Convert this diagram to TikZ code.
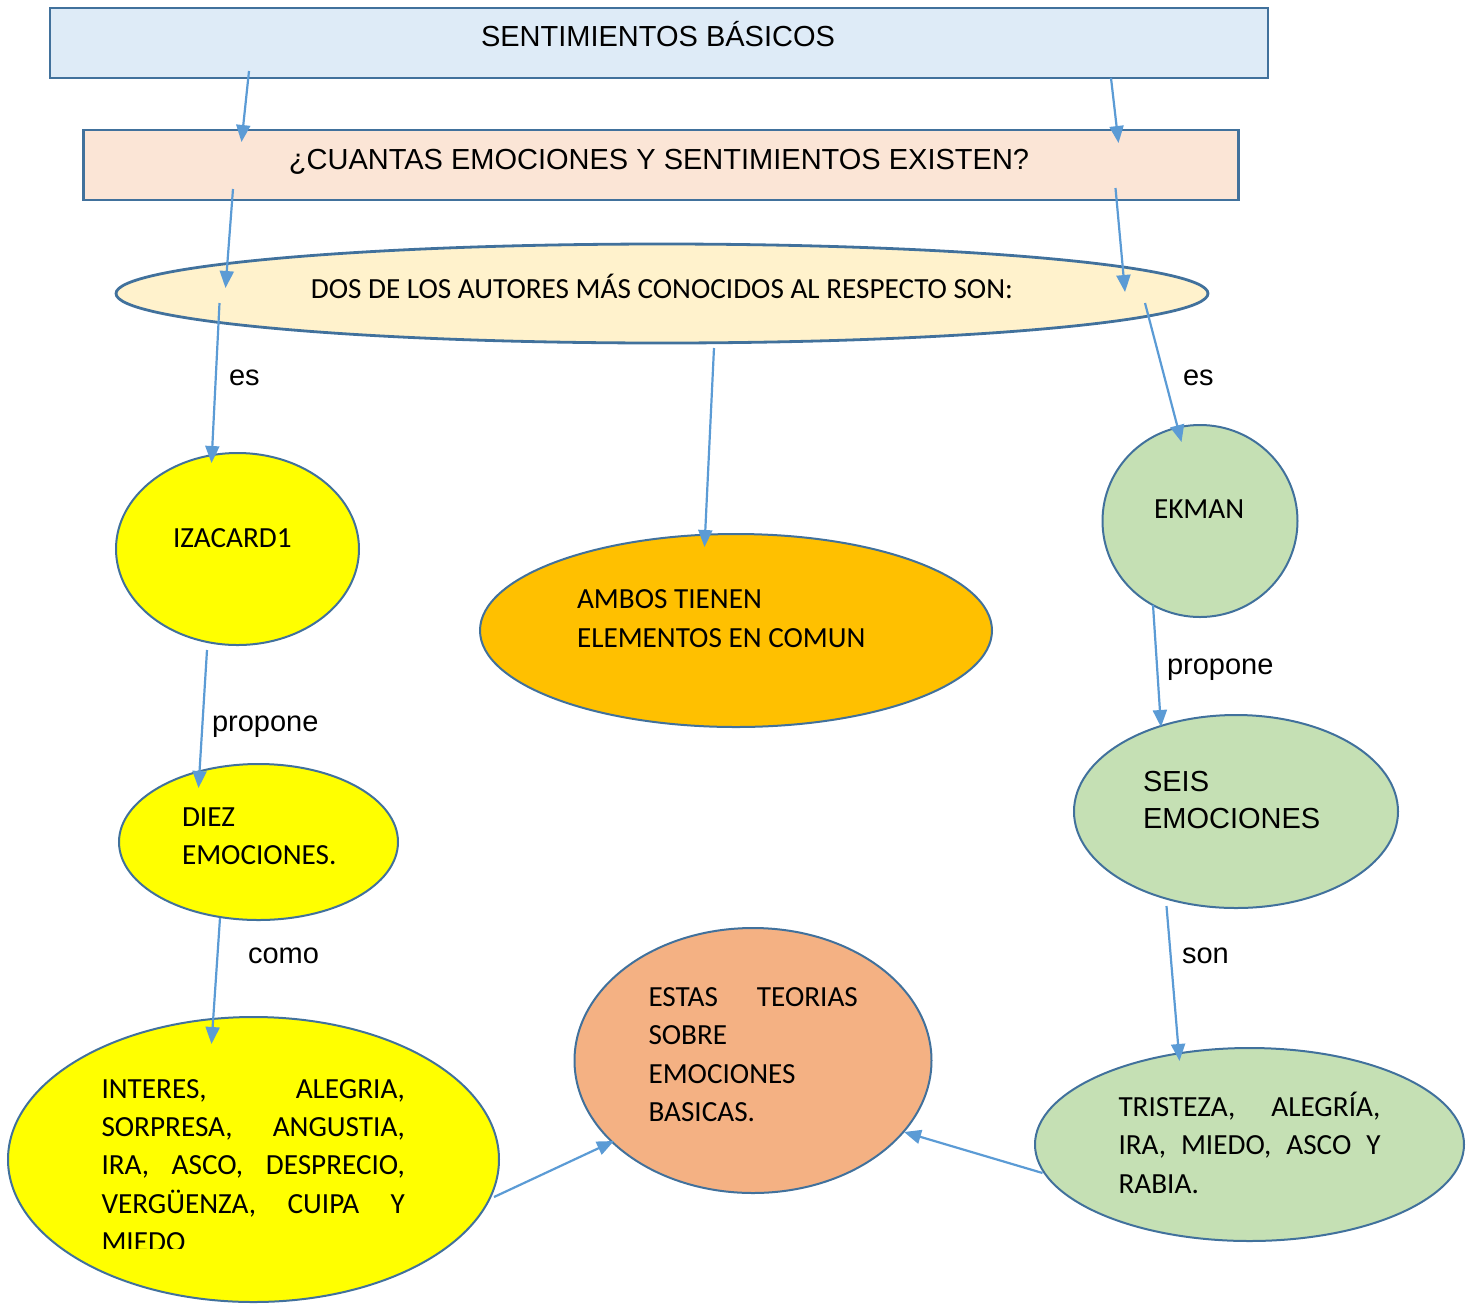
\documentclass[tikz,border=0pt]{standalone}
\usepackage{fontspec}
\setmainfont{Carlito}
\newfontfamily\arialf{Liberation Sans}
\usetikzlibrary{shapes.geometric,arrows.meta}
\definecolor{edgeblue}{HTML}{41719C}
\definecolor{arrowblue}{HTML}{5B9BD5}
\definecolor{boxone}{HTML}{DEEBF7}
\definecolor{boxtwo}{HTML}{FBE5D6}
\definecolor{ellcream}{HTML}{FFF2CC}
\definecolor{yel}{HTML}{FFFF00}
\definecolor{orng}{HTML}{FFC000}
\definecolor{grn}{HTML}{C5E0B4}
\definecolor{salmon}{HTML}{F4B183}
\tikzset{
  shp/.style={draw=edgeblue, line width=1pt, inner sep=0pt, outer sep=0pt},
  boxshape/.style={shp, rectangle, line width=1.4pt},
  ell/.style={shp, ellipse},
  txt/.style={inner sep=0pt, outer sep=0pt, font=\fontsize{14.6}{19.3}\selectfont},
  atxt/.style={txt, font=\arialf\fontsize{14.5}{19.3}\selectfont},
  arr/.style={draw=arrowblue, line width=1.1pt, -{Triangle[length=8.5pt,width=7pt]}}
}
\begin{document}
\begin{tikzpicture}[x=0.5pt,y=-0.5pt]
\useasboundingbox (0,0) rectangle (1474,1303);
% shapes
\node[boxshape, fill=boxone, minimum width=609pt, minimum height=35pt] (b1) at (659,43) {};
\node[boxshape, fill=boxtwo, minimum width=577.5pt, minimum height=35pt] (b2) at (661,165) {};
\node[ell, line width=1.4pt, fill=ellcream, minimum width=546pt, minimum height=49.5pt] (e1) at (662,293.5) {};
\node[ell, fill=yel, minimum width=121.5pt, minimum height=96pt] (iza) at (237.5,549) {};
\node[ell, fill=orng, minimum width=256pt, minimum height=96.5pt] (amb) at (736,630.5) {};
\node[ell, fill=grn, minimum width=97.5pt, minimum height=96pt] (ekm) at (1200,521) {};
\node[ell, fill=yel, minimum width=139.5pt, minimum height=78pt] (diez) at (258.5,842) {};
\node[ell, fill=grn, minimum width=162pt, minimum height=96.5pt] (seis) at (1236,811.5) {};
\node[ell, fill=yel, minimum width=245.5pt, minimum height=142.5pt] (int) at (253.5,1159.5) {};
\node[ell, fill=salmon, minimum width=178.5pt, minimum height=132.5pt] (est) at (753,1060.5) {};
\node[ell, fill=grn, minimum width=214.5pt, minimum height=96.5pt] (tri) at (1249.5,1144.5) {};
% texts
\node[atxt, anchor=base] (t1) at (658,46) {SENTIMIENTOS BÁSICOS};
\node[atxt, anchor=base] (t2) at (659,169) {¿CUANTAS EMOCIONES Y SENTIMIENTOS EXISTEN?};
\node[txt, anchor=base] (t3) at (662,298) {DOS DE LOS AUTORES MÁS CONOCIDOS AL RESPECTO SON:};
\node[txt, anchor=base west] (t4) at (173,547) {IZACARD1};
\node[txt, anchor=base west] (t5) at (577,608) {\vtop{\baselineskip=19.5pt\hbox{AMBOS TIENEN}\hbox{ELEMENTOS EN COMUN}}};
\node[txt, anchor=base west] (t6) at (1154,518) {EKMAN};
\node[txt, anchor=base west] (t7) at (182,826) {\vtop{\baselineskip=19pt\hbox{DIEZ}\hbox{EMOCIONES.}}};
\node[atxt, anchor=base west] (t8) at (1143,791) {\vtop{\baselineskip=18.5pt\hbox{SEIS}\hbox{EMOCIONES}}};
\begin{scope}
\clip (0,0) rectangle (1474,1248);
\node[txt, anchor=base west] (t9) at (101.5,1098) {\vtop{\baselineskip=19.2pt
  \hbox to 151.7pt{INTERES,\hfill ALEGRIA,}
  \hbox to 151.7pt{SORPRESA,\hfill ANGUSTIA,}
  \hbox to 151.7pt{IRA,\hfill ASCO,\hfill DESPRECIO,}
  \hbox to 151.7pt{VERGÜENZA,\hfill CUIPA\hfill Y}
  \hbox{MIEDO}}};
\end{scope}
\node[txt, anchor=base west] (t10) at (648.5,1006) {\vtop{\baselineskip=19.3pt
  \hbox to 104.7pt{ESTAS\hfill TEORIAS}
  \hbox{SOBRE}
  \hbox{EMOCIONES}
  \hbox{BASICAS.}}};
\node[txt, anchor=base west] (t11) at (1118.5,1116) {\vtop{\baselineskip=19.3pt
  \hbox to 131pt{TRISTEZA,\hfill ALEGRÍA,}
  \hbox to 131pt{IRA,\hfill MIEDO,\hfill ASCO\hfill Y}
  \hbox{RABIA.}}};
% connector labels
\node[atxt, anchor=base west] (l1) at (229,385) {es};
\node[atxt, anchor=base west] (l2) at (1183,385) {es};
\node[atxt, anchor=base west] (l3) at (212,731) {propone};
\node[atxt, anchor=base west] (l4) at (1167,674) {propone};
\node[atxt, anchor=base west] (l5) at (248,963) {como};
\node[atxt, anchor=base west] (l6) at (1182,963) {son};
% connector end points
\coordinate (a1s) at (249,71);   \coordinate (a1e) at (241.5,142);
\coordinate (a2s) at (1111,78);  \coordinate (a2e) at (1118.5,143);
\coordinate (a3s) at (233,189);  \coordinate (a3e) at (225.5,288);
\coordinate (a4s) at (1115.5,188); \coordinate (a4e) at (1125,292);
\coordinate (a5s) at (219.5,303); \coordinate (a5e) at (211.5,463);
\coordinate (a6s) at (1145,303); \coordinate (a6e) at (1181.5,442);
\coordinate (a7s) at (714,348);  \coordinate (a7e) at (704.5,547);
\coordinate (a8s) at (207,650);  \coordinate (a8e) at (198.5,788);
\coordinate (a9s) at (1153,605); \coordinate (a9e) at (1161,727);
\coordinate (a10s) at (220,918); \coordinate (a10e) at (211.5,1044);
\coordinate (a11s) at (1166.5,906); \coordinate (a11e) at (1179.5,1061);
\coordinate (a12s) at (494,1197); \coordinate (a12e) at (614,1141);
\coordinate (a13s) at (1042.5,1173); \coordinate (a13e) at (904,1132);
% connectors
\draw[arr] (a1s) -- (a1e);
\draw[arr] (a2s) -- (a2e);
\draw[arr] (a3s) -- (a3e);
\draw[arr] (a4s) -- (a4e);
\draw[arr] (a5s) -- (a5e);
\draw[arr] (a6s) -- (a6e);
\draw[arr] (a7s) -- (a7e);
\draw[arr] (a8s) -- (a8e);
\draw[arr] (a9s) -- (a9e);
\draw[arr] (a10s) -- (a10e);
\draw[arr] (a11s) -- (a11e);
\draw[arr] (a12s) -- (a12e);
\draw[arr] (a13s) -- (a13e);
\end{tikzpicture}
\end{document}
